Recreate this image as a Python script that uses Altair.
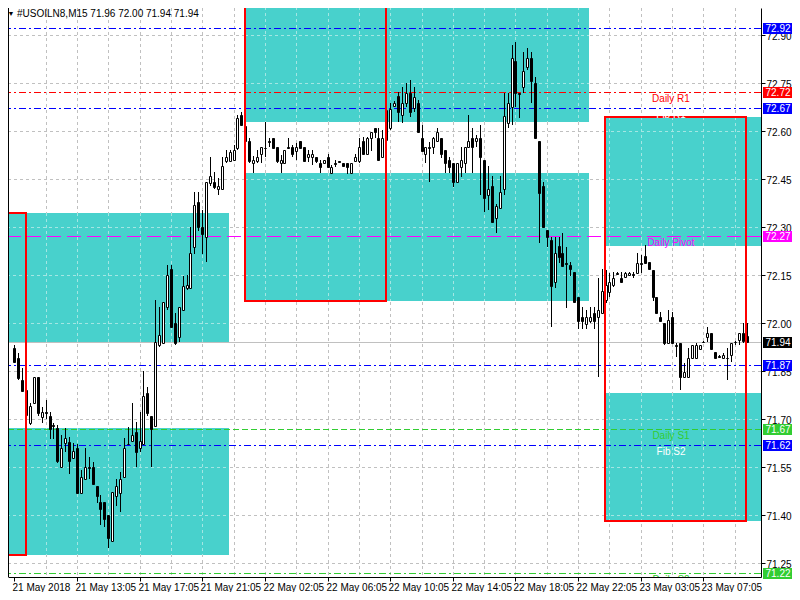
import json
import altair as alt
import pandas as pd

# ---------------- candle data (M15 bars, left to right) ----------------
opens = [
    71.921, 71.890, 71.821, 71.790, 71.687, 71.750, 71.831, 71.706, 71.721, 71.709,
    71.681, 71.671, 71.550, 71.625, 71.628, 71.578, 71.609, 71.468, 71.512, 71.550,
    71.550, 71.490, 71.440, 71.440, 71.400, 71.318, 71.459, 71.468, 71.518, 71.621,
    71.631, 71.659, 71.609, 71.621, 71.781, 71.709, 71.678, 71.931, 71.937, 72.050,
    72.168, 72.000, 71.956, 72.040, 72.109, 72.109, 72.237, 72.378, 72.300, 72.268,
    72.437, 72.440, 72.418, 72.418, 72.506, 72.506, 72.509, 72.546, 72.650, 72.615,
    72.568, 72.500, 72.506, 72.528, 72.546, 72.568, 72.578, 72.550, 72.500, 72.500,
    72.550, 72.550, 72.537, 72.568, 72.550, 72.518, 72.518, 72.518, 72.500, 72.500,
    72.518, 72.468, 72.500, 72.506, 72.500, 72.500, 72.468, 72.506, 72.506, 72.568,
    72.528, 72.578, 72.609, 72.578, 72.518, 72.571, 72.609, 72.678, 72.709, 72.650,
    72.687, 72.718, 72.671, 72.687, 72.578, 72.528, 72.550, 72.550, 72.568, 72.578,
    72.540, 72.509, 72.500, 72.440, 72.487, 72.500, 72.550, 72.578, 72.568, 72.578,
    72.509, 72.400, 72.428, 72.328, 72.359, 72.418, 72.625, 72.675, 72.818, 72.718,
    72.737, 72.799, 72.828, 72.750, 72.568, 72.428, 72.290, 72.259, 72.128, 72.240,
    72.218, 72.187, 72.181, 72.159, 72.081, 72.018, 71.996, 72.006, 72.031, 72.018,
    72.031, 72.071, 72.096, 72.118, 72.156, 72.140, 72.143, 72.150, 72.153, 72.156,
    72.187, 72.209, 72.190, 72.165, 72.081, 72.018, 72.000, 71.937, 72.018, 71.931,
    71.937, 71.831, 71.831, 71.890, 71.890, 71.918, 71.940, 71.956, 71.968, 71.909,
    71.896, 71.890, 71.890, 71.900, 71.940, 71.946, 71.968, 71.960,
]
highs = [
    71.931, 71.906, 71.859, 71.800, 71.750, 71.831, 71.831, 71.737, 71.759, 71.721,
    71.687, 71.681, 71.650, 71.671, 71.643, 71.625, 71.621, 71.540, 71.609, 71.581,
    71.565, 71.490, 71.462, 71.440, 71.400, 71.471, 71.512, 71.534, 71.640, 71.675,
    71.750, 71.690, 71.721, 71.850, 71.800, 71.709, 72.071, 72.050, 72.065, 72.181,
    72.181, 72.031, 72.050, 72.146, 72.150, 72.300, 72.409, 72.409, 72.353, 72.440,
    72.518, 72.471, 72.453, 72.518, 72.540, 72.540, 72.556, 72.650, 72.659, 72.634,
    72.578, 72.521, 72.540, 72.550, 72.628, 72.578, 72.578, 72.550, 72.525, 72.540,
    72.578, 72.556, 72.562, 72.568, 72.550, 72.540, 72.540, 72.518, 72.509, 72.509,
    72.528, 72.493, 72.509, 72.506, 72.500, 72.500, 72.500, 72.528, 72.578, 72.581,
    72.581, 72.596, 72.609, 72.609, 72.603, 72.681, 72.687, 72.693, 72.721, 72.737,
    72.750, 72.759, 72.737, 72.696, 72.618, 72.550, 72.565, 72.581, 72.609, 72.578,
    72.540, 72.518, 72.500, 72.500, 72.550, 72.550, 72.650, 72.609, 72.587, 72.618,
    72.509, 72.490, 72.459, 72.371, 72.459, 72.718, 72.718, 72.868, 72.878, 72.718,
    72.846, 72.859, 72.846, 72.768, 72.568, 72.440, 72.290, 72.268, 72.268, 72.268,
    72.281, 72.237, 72.190, 72.159, 72.081, 72.050, 72.040, 72.050, 72.050, 72.140,
    72.168, 72.165, 72.156, 72.159, 72.159, 72.159, 72.159, 72.159, 72.159, 72.218,
    72.212, 72.243, 72.190, 72.165, 72.081, 72.034, 72.000, 72.040, 72.034, 71.937,
    71.937, 71.875, 71.921, 71.931, 71.937, 71.931, 71.943, 71.987, 71.968, 71.909,
    71.900, 71.906, 71.921, 71.937, 71.943, 71.968, 72.000, 72.000,
]
lows = [
    71.875, 71.821, 71.784, 71.706, 71.681, 71.746, 71.709, 71.687, 71.700, 71.637,
    71.637, 71.562, 71.550, 71.596, 71.528, 71.578, 71.468, 71.468, 71.512, 71.512,
    71.496, 71.437, 71.368, 71.362, 71.296, 71.318, 71.428, 71.409, 71.518, 71.618,
    71.628, 71.550, 71.596, 71.621, 71.709, 71.550, 71.678, 71.925, 71.937, 72.040,
    71.987, 71.931, 71.940, 72.040, 72.103, 72.109, 72.215, 72.287, 72.215, 72.190,
    72.428, 72.418, 72.400, 72.418, 72.500, 72.503, 72.506, 72.540, 72.615, 72.562,
    72.500, 72.468, 72.500, 72.500, 72.518, 72.550, 72.546, 72.500, 72.468, 72.500,
    72.546, 72.518, 72.509, 72.546, 72.503, 72.503, 72.493, 72.500, 72.468, 72.500,
    72.487, 72.468, 72.487, 72.500, 72.487, 72.465, 72.468, 72.506, 72.500, 72.525,
    72.528, 72.537, 72.578, 72.509, 72.515, 72.565, 72.603, 72.675, 72.628, 72.625,
    72.675, 72.643, 72.659, 72.596, 72.534, 72.500, 72.440, 72.528, 72.565, 72.515,
    72.468, 72.468, 72.425, 72.437, 72.456, 72.468, 72.550, 72.468, 72.550, 72.400,
    72.346, 72.353, 72.315, 72.281, 72.359, 72.400, 72.609, 72.618, 72.675, 72.640,
    72.718, 72.790, 72.687, 72.578, 72.250, 72.300, 72.237, 71.987, 72.109, 72.187,
    72.178, 72.046, 72.146, 72.065, 71.981, 71.981, 71.981, 72.000, 71.981, 71.831,
    72.031, 72.062, 72.081, 72.112, 72.150, 72.128, 72.140, 72.146, 72.140, 72.156,
    72.156, 72.187, 72.168, 72.068, 72.031, 72.006, 71.931, 71.937, 71.937, 71.893,
    71.790, 71.831, 71.831, 71.890, 71.890, 71.915, 71.937, 71.940, 71.918, 71.890,
    71.890, 71.890, 71.821, 71.878, 71.931, 71.931, 71.937, 71.940,
]
closes = [
    71.878, 71.828, 71.787, 71.712, 71.740, 71.831, 71.718, 71.721, 71.718, 71.668,
    71.678, 71.568, 71.609, 71.640, 71.568, 71.600, 71.468, 71.518, 71.550, 71.548,
    71.496, 71.459, 71.418, 71.387, 71.328, 71.471, 71.490, 71.512, 71.609, 71.621,
    71.650, 71.596, 71.631, 71.771, 71.718, 71.668, 71.940, 71.962, 72.065, 72.150,
    71.987, 71.937, 72.050, 72.115, 72.118, 72.218, 72.368, 72.300, 72.278, 72.440,
    72.459, 72.425, 72.428, 72.490, 72.518, 72.534, 72.540, 72.640, 72.618, 72.568,
    72.506, 72.509, 72.518, 72.550, 72.548, 72.566, 72.546, 72.506, 72.509, 72.540,
    72.548, 72.528, 72.550, 72.546, 72.506, 72.528, 72.528, 72.506, 72.487, 72.509,
    72.487, 72.487, 72.498, 72.504, 72.490, 72.487, 72.500, 72.518, 72.550, 72.528,
    72.578, 72.596, 72.596, 72.509, 72.578, 72.665, 72.668, 72.687, 72.659, 72.687,
    72.718, 72.659, 72.706, 72.596, 72.537, 72.550, 72.548, 72.578, 72.596, 72.528,
    72.500, 72.487, 72.440, 72.500, 72.509, 72.550, 72.568, 72.550, 72.578, 72.518,
    72.390, 72.418, 72.315, 72.365, 72.409, 72.646, 72.687, 72.828, 72.718, 72.716,
    72.787, 72.828, 72.756, 72.578, 72.406, 72.300, 72.268, 72.115, 72.218, 72.206,
    72.178, 72.185, 72.168, 72.065, 72.006, 72.006, 72.018, 72.018, 72.006, 72.040,
    72.100, 72.118, 72.128, 72.140, 72.154, 72.128, 72.156, 72.156, 72.151, 72.187,
    72.185, 72.187, 72.168, 72.081, 72.031, 72.006, 71.937, 72.009, 71.937, 71.929,
    71.831, 71.846, 71.890, 71.931, 71.931, 71.931, 71.939, 71.968, 71.918, 71.890,
    71.895, 71.900, 71.889, 71.937, 71.939, 71.968, 71.943, 71.940,
]

# ---------------- axes ----------------
time_labels = ["21 May 2018", "21 May 13:05", "21 May 17:05", "21 May 21:05",
               "22 May 02:05", "22 May 06:05", "22 May 10:05", "22 May 14:05",
               "22 May 18:05", "22 May 22:05", "23 May 03:05", "23 May 07:05"]
label_bars = [0, 16, 32, 48, 64, 80, 96, 112, 128, 144, 160, 176]
grid_bars = [8, 16, 24, 32, 40, 48, 56, 64, 72, 80, 88, 96, 104, 112, 120, 128,
             136, 144, 152, 160, 168, 176, 184]
price_ticks = [71.25, 71.40, 71.55, 71.70, 71.85, 72.00, 72.15, 72.30, 72.45,
               72.60, 72.75, 72.90]

# ---------------- horizontal levels ----------------
level_prices = [72.92, 72.72, 72.67, 72.27, 71.94, 71.87, 71.67, 71.62, 71.22]
level_names = ["Fib R2", "Daily R1", "Fib R1", "Daily Pivot", "Bid", "Fib S1",
               "Daily S1", "Fib S2", "Daily S2"]
level_styles = ["dashdot", "dashdot", "dashdot", "longdash", "solid", "dashdot",
                "shortdash", "dashdot", "dashdot"]
level_colors = ["#0000ff", "#ff0000", "#0000ff", "#ff00ff", "#c0c0c0", "#0000ff",
                "#32cd32", "#0000ff", "#32cd32"]
box_colors = ["#0000ff", "#ff0000", "#0000ff", "#ff00ff", "#000000", "#0000ff",
              "#32cd32", "#0000ff", "#32cd32"]
dash_names = ["dashdot", "longdash", "shortdash", "solid"]
dash_patterns = [[7, 3, 2, 3], [14, 6], [6, 3], [1, 0]]

text_labels = ["Daily R1", "Fib R1", "Daily Pivot", "Daily S1", "Fib S2", "Daily S2"]
text_prices = [72.72, 72.67, 72.27, 71.67, 71.62, 71.22]
text_colors = ["#ff0000", "#ffffff", "#ff00ff", "#32cd32", "#ffffff", "#32cd32"]

# ---------------- zones (bar index / price) ----------------
zone_x0 = [-5.0, -5.0, 58.95, 58.95, 150.85, 150.85]
zone_x1 = [54.85, 54.85, 146.85, 146.85, 195.0, 195.0]
zone_top = [72.343, 71.671, 73.10, 72.469, 72.642, 71.781]
zone_bottom = [71.939, 71.275, 72.629, 72.069, 72.241, 71.382]

box_x0 = [-5.0, 58.95, 150.85]
box_x1 = [2.9, 94.85, 186.85]
box_top = [72.343, 73.10, 72.642]
box_bottom = [71.275, 72.069, 71.382]

title_text = "#USOILN8,M15  71.96 72.00 71.94 71.94"

# ---------------- tables ----------------
candles = pd.DataFrame({"i": list(range(len(opens))), "open": opens, "high": highs,
                        "low": lows, "close": closes})
levels = pd.DataFrame({"price": level_prices, "name": level_names, "style": level_styles})
ltexts = pd.DataFrame({"price": text_prices, "label": text_labels})
zones = pd.DataFrame({"x0": zone_x0, "x1": zone_x1, "top": zone_top, "bottom": zone_bottom})
boxes = pd.DataFrame({"x0": box_x0, "x1": box_x1, "top": box_top, "bottom": box_bottom})

hseg, vseg = [], []
for x0, x1, t, b in zip(zone_x0, zone_x1, zone_top, zone_bottom):
    for p in price_ticks:
        if b < p < t:
            hseg.append({"x0": x0, "x1": x1, "p": p})
    for g in grid_bars:
        if x0 < g < x1:
            vseg.append({"g": g, "top": t, "bottom": b})
hseg = pd.DataFrame(hseg)
vseg = pd.DataFrame(vseg)

FONT = "Liberation Sans"
xs = alt.Scale(domain=[-0.325, 189.425], nice=False, zero=False, round=True)
ys = alt.Scale(domain=[71.206, 72.984], nice=False, zero=False, round=True)

label_expr = f"{json.dumps(time_labels)}[indexof({json.dumps(label_bars)}, datum.value)]"
ax_x = alt.Axis(orient="bottom", values=label_bars, labelExpr=label_expr, title=None,
                grid=False, tickSize=4, tickColor="black", domainColor="black",
                labelColor="black", labelFont=FONT, labelFontSize=10, labelAlign="left",
                labelBaseline="top", labelPadding=1, labelOffset=-2,
                labelOverlap=False, labelFlush=False)
ax_y = alt.Axis(orient="right", values=price_ticks, format=".2f", title=None, grid=False,
                tickSize=4, tickColor="black", domainColor="black", labelColor="black",
                labelFont=FONT, labelFontSize=10, labelPadding=1, labelBaseline="middle",
                labelAlign="left", labelOverlap=False, labelFlush=False, labelOffset=1)

X = lambda f: alt.X(f, scale=xs, axis=ax_x)
Y = lambda f: alt.Y(f, scale=ys, axis=ax_y)

GRID = "#c0c0c0"
hgrid = alt.Chart(pd.DataFrame({"p": price_ticks})).mark_rule(
    color=GRID, strokeDash=[3, 3], yOffset=0.5).encode(y=Y("p:Q"))
vgrid = alt.Chart(pd.DataFrame({"g": grid_bars})).mark_rule(
    color=GRID, strokeDash=[3, 3], xOffset=0.5).encode(x=X("g:Q"))

zone_layer = alt.Chart(zones).mark_rect(color="#48D1CC", clip=True).encode(
    x=X("x0:Q"), x2="x1:Q", y=Y("top:Q"), y2="bottom:Q")
zgh = alt.Chart(hseg).mark_rule(color="#a3e6e3", strokeDash=[3, 3], yOffset=0.5,
                                clip=True).encode(x=X("x0:Q"), x2="x1:Q", y=Y("p:Q"))
zgv = alt.Chart(vseg).mark_rule(color="#a3e6e3", strokeDash=[3, 3], xOffset=0.5,
                                clip=True).encode(x=X("g:Q"), y=Y("top:Q"), y2="bottom:Q")

level_lines = alt.Chart(levels).mark_rule(strokeWidth=1, yOffset=0.5).encode(
    y=Y("price:Q"),
    color=alt.Color("name:N", scale=alt.Scale(domain=level_names, range=level_colors),
                    legend=None),
    strokeDash=alt.StrokeDash("style:N", scale=alt.Scale(domain=dash_names,
                                                         range=dash_patterns), legend=None))

wicks = alt.Chart(candles).mark_rule(color="black", strokeWidth=1, xOffset=0.5).encode(
    x=X("i:Q"), y=Y("low:Q"), y2="high:Q")
bodies = alt.Chart(candles).mark_bar(width=2, stroke="black", strokeWidth=1, xOffset=0.5,
                                     yOffset=0.5, y2Offset=0.5).encode(
    x=X("i:Q"), y=Y("open:Q"), y2="close:Q",
    fill=alt.condition("datum.close >= datum.open", alt.value("white"), alt.value("black")))

red_boxes = alt.Chart(boxes).mark_rect(filled=False, color="#ff0000", strokeWidth=2,
                                       clip=True).encode(
    x=X("x0:Q"), x2="x1:Q", y=Y("top:Q"), y2="bottom:Q")

level_text = alt.Chart(ltexts).mark_text(align="center", baseline="middle", dy=7,
                                         font=FONT, fontSize=10, clip=True).encode(
    x=alt.value(663), y=Y("price:Q"), text="label:N",
    color=alt.Color("label:N", scale=alt.Scale(domain=text_labels, range=text_colors),
                    legend=None))

tag_boxes = alt.Chart(levels).mark_rect(yOffset=-5, y2Offset=6).encode(
    x=alt.value(755), x2=alt.value(784), y=Y("price:Q"), y2="price:Q",
    color=alt.Color("name:N", scale=alt.Scale(domain=level_names, range=box_colors),
                    legend=None))
tag_text = alt.Chart(levels).mark_text(color="white", align="center", baseline="middle",
                                       font=FONT, fontSize=10, dy=0.5).encode(
    x=alt.value(770), y=Y("price:Q"), text=alt.Text("price:Q", format=".2f"))

one = pd.DataFrame({"t": [title_text]})
left_border = alt.Chart(one).mark_rule(color="black").encode(
    x=alt.value(0.5), y=alt.value(0), y2=alt.value(569))
tri = alt.Chart(one).mark_text(text="▼", fontSize=7, color="black", align="center",
                               baseline="middle").encode(x=alt.value(3), y=alt.value(6))
title = alt.Chart(one).mark_text(font=FONT, fontSize=10, color="black", align="left",
                                 baseline="middle").encode(
    x=alt.value(9), y=alt.value(6), text="t:N")

chart = alt.layer(
    hgrid, vgrid, zone_layer, zgh, zgv, level_lines, wicks, bodies, red_boxes,
    level_text, tag_boxes, tag_text, left_border, tri, title
).resolve_scale(color="independent").properties(
    width=753, height=569,
    padding={"left": 0, "top": 0, "right": 31, "bottom": 15},
    autosize=alt.AutoSizeParams(type="none"),
    background="white",
).configure_view(stroke=None)

chart.save("out.html", embed_options={"renderer": "svg", "actions": False})
